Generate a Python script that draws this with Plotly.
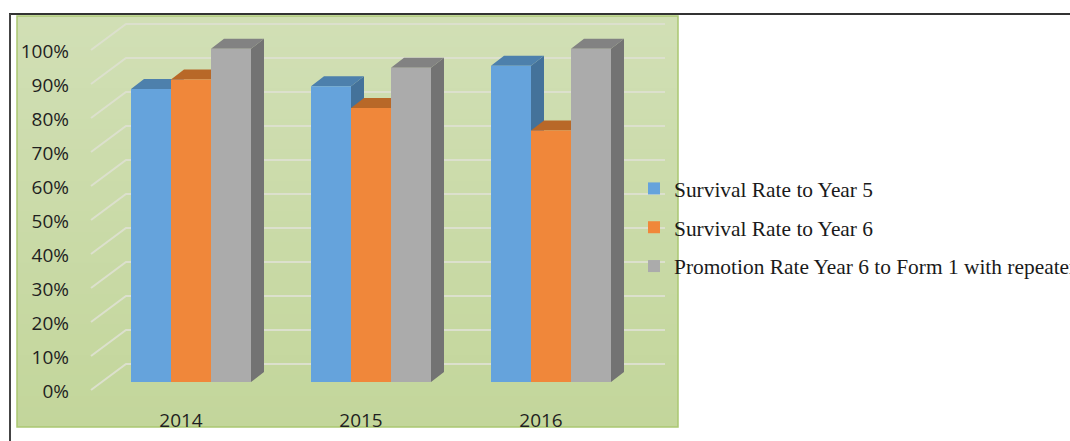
import plotly.graph_objects as go

# ---- data ----
years = ["2014", "2015", "2016"]
series_names = ["Survival Rate to Year 5", "Survival Rate to Year 6", "Promotion Rate Year 6 to Form 1 with repeaters"]
survival_y5 = [86.2, 87.0, 93.0]
survival_y6 = [89.0, 80.6, 74.0]
promotion = [98.0, 92.4, 98.0]
tick_values = [0, 10, 20, 30, 40, 50, 60, 70, 80, 90, 100]
tick_labels = ["0%", "10%", "20%", "30%", "40%", "50%", "60%", "70%", "80%", "90%", "100%"]

front_colors = ["#65a3dc", "#f0873a", "#ababab"]
top_colors = ["#4d80ac", "#b86828", "#828282"]
side_colors = ["#44729a", "#a85e24", "#737373"]

# ---- geometry ----
W, H = 1070, 441
ML, MB = 70, 34
PX_PER_X = 180.0      # pixels per category
PX_PER_Y = 3.4        # pixels per percentage point
X0_PX, Y0_PX = 181.0, 390.0   # pixel position of x=0 (first year) and y=0
x_range = [(ML - X0_PX) / PX_PER_X, (W - X0_PX) / PX_PER_X]
y_range = [(Y0_PX - (H - MB)) / PX_PER_Y, Y0_PX / PX_PER_Y]

bar_w = 40 / PX_PER_X
group_shift = 10 / PX_PER_X
bar_base = 8 / PX_PER_Y
depth_x, depth_y = 13 / PX_PER_X, 10 / PX_PER_Y
wall_x, wall_y = 35 / PX_PER_X, 26 / PX_PER_Y
grid_left = (91 - X0_PX) / PX_PER_X
grid_right = (665 - X0_PX) / PX_PER_X


def px(x):
    return (x - ML) / (W - ML)


def py(y):
    return 1 - y / (H - MB)


shapes = []
# green panel with a soft vertical gradient (each strip runs to the bottom, so no seams)
P_L, P_T, P_R, P_B = 17, 16, 678, 427
STRIPS = 40
c_top, c_bot = (209, 223, 181), (195, 214, 155)
for k in range(STRIPS):
    t = k / (STRIPS - 1)
    col = tuple(round(a + (b - a) * t) for a, b in zip(c_top, c_bot))
    y0 = P_T + (P_B - P_T) * k / STRIPS
    shapes.append(dict(type="rect", xref="paper", yref="paper", layer="below",
                       x0=px(P_L), x1=px(P_R), y0=py(y0), y1=py(P_B),
                       fillcolor=f"rgb{col}", line_width=0))
shapes.append(dict(type="rect", xref="paper", yref="paper", layer="below",
                   x0=px(P_L), x1=px(P_R), y0=py(P_T), y1=py(P_B),
                   fillcolor="rgba(0,0,0,0)", line=dict(color="#aac872", width=1.5)))
# outer frame: top and left rules only
shapes.append(dict(type="line", xref="paper", yref="paper", layer="below",
                   x0=px(9), x1=px(W), y0=py(14), y1=py(14), line=dict(color="#333333", width=2)))
shapes.append(dict(type="line", xref="paper", yref="paper", layer="below",
                   x0=px(10), x1=px(10), y0=py(14), y1=py(H), line=dict(color="#444444", width=2)))

fig = go.Figure()

# wall gridlines and their floor-side diagonals
gx, gy = [], []
for v in tick_values:
    gx += [grid_left, grid_left + wall_x, grid_right, None]
    gy += [v, v + wall_y, v + wall_y, None]
fig.add_trace(go.Scatter(x=gx, y=gy, mode="lines", line=dict(color="#dce0cd", width=2),
                         hoverinfo="skip", showlegend=False))

all_series = [survival_y5, survival_y6, promotion]
for s, values in enumerate(all_series):
    sx, sy, tx, ty = [], [], [], []
    for i, v in enumerate(values):
        left = i + group_shift + (s - 1.5) * bar_w
        right = left + bar_w
        top = bar_base + v
        sx += [right, right + depth_x, right + depth_x, right, right, None]
        sy += [bar_base, bar_base + depth_y, top + depth_y, top, bar_base, None]
        tx += [left, right, right + depth_x, left + depth_x, left, None]
        ty += [top, top, top + depth_y, top + depth_y, top, None]
    fig.add_trace(go.Scatter(x=sx, y=sy, mode="lines", fill="toself", fillcolor=side_colors[s],
                             line=dict(width=0), hoverinfo="skip", showlegend=False,
                             legendgroup=series_names[s]))
    fig.add_trace(go.Scatter(x=tx, y=ty, mode="lines", fill="toself", fillcolor=top_colors[s],
                             line=dict(width=0), hoverinfo="skip", showlegend=False,
                             legendgroup=series_names[s]))

# front faces, on an overlaid copy of the axes so they sit above the polygons
for s, values in enumerate(all_series):
    fig.add_trace(go.Bar(
        x=[i + group_shift + (s - 1) * bar_w for i in range(len(years))],
        y=values, base=bar_base, width=bar_w, name=series_names[s],
        marker=dict(color=front_colors[s], line=dict(width=0)),
        customdata=years, hovertemplate="%{customdata}: %{y}%<extra>" + series_names[s] + "</extra>",
        xaxis="x2", yaxis="y2", legendgroup=series_names[s]))

LEG_X = 634
fig.update_layout(
    width=W, height=H, autosize=False,
    margin=dict(l=ML, r=0, t=0, b=MB, pad=0, autoexpand=False),
    paper_bgcolor="white", plot_bgcolor="rgba(0,0,0,0)",
    barmode="overlay",
    shapes=shapes,
    font=dict(family="Open Sans", size=19, color="#1f1f1f"),
    xaxis=dict(range=x_range, tickmode="array", tickvals=[0, 1, 2], ticktext=years,
               showgrid=False, zeroline=False, showline=False, ticks="", fixedrange=True,
               tickfont=dict(size=19)),
    yaxis=dict(range=y_range, tickmode="array", tickvals=tick_values, ticktext=tick_labels,
               showgrid=False, zeroline=False, showline=False, ticks="", fixedrange=True,
               ticklabelshift=1, tickfont=dict(size=19)),
    xaxis2=dict(range=x_range, overlaying="x", visible=False, anchor="y2", fixedrange=True),
    yaxis2=dict(range=y_range, overlaying="y", visible=False, anchor="x2", fixedrange=True),
    legend=dict(x=px(LEG_X), y=py(168), xanchor="left", yanchor="top",
                bgcolor="rgba(0,0,0,0)", tracegroupgap=8, borderwidth=0,
                entrywidthmode="pixels", entrywidth=W - LEG_X,
                font=dict(family="Liberation Serif", size=21.4, color="#1a1a1a")),
)

fig.write_html("out.html", config={"displayModeBar": False},
               post_script="document.body.style.margin='0';document.body.style.overflow='hidden';")
